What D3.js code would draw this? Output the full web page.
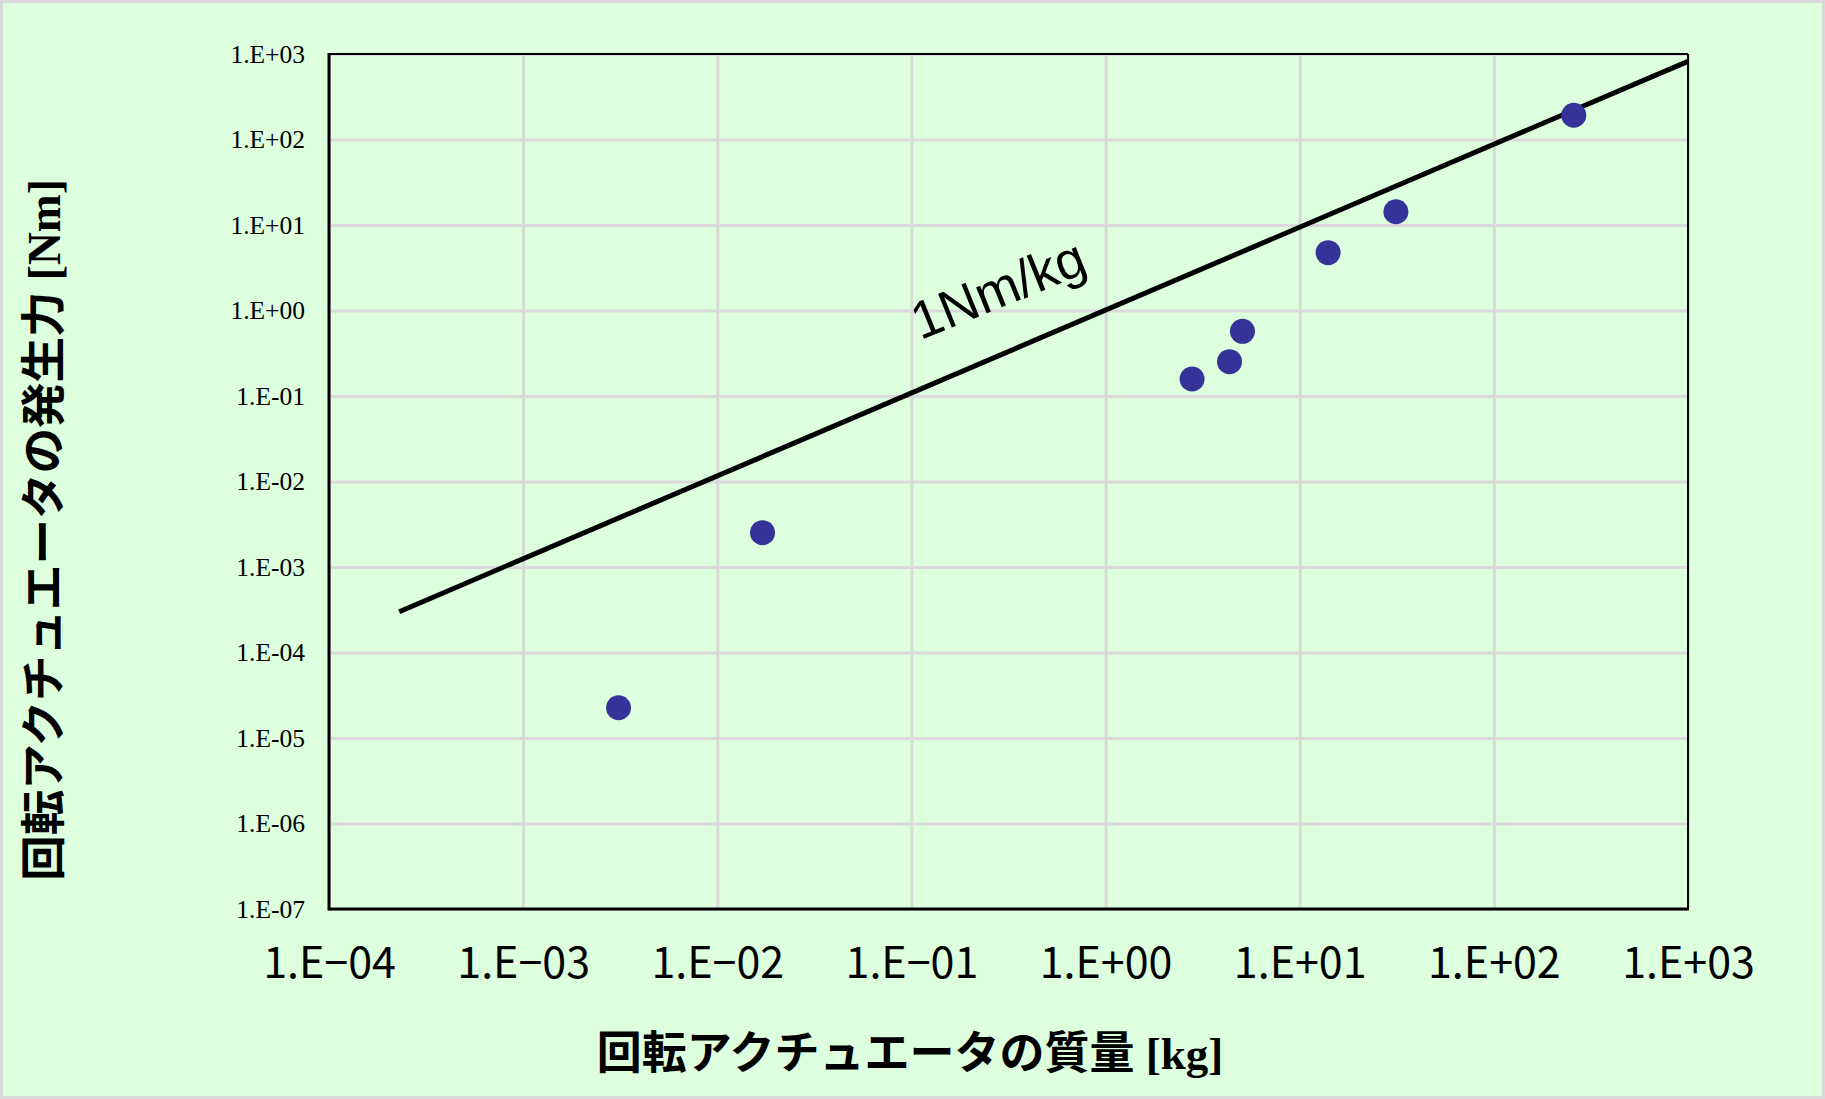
<!DOCTYPE html>
<html><head><meta charset="utf-8">
<script src="https://cdn.jsdelivr.net/npm/d3@7"></script>
<style>body{margin:0;background:#fff}svg{display:block}</style>
</head><body>
<script>
// ---- data ----
const massKg   = [3.1e-3, 1.71e-2, 2.79, 4.35, 5.07, 14.0, 31.3, 258];
const torqueNm = [2.26e-5, 2.52e-3, 0.158, 0.252, 0.571, 4.75, 14.3, 192];
const refLineX = [2.3e-4, 1e3];
const refLineY = [3.0e-4, 820];
const refLabel = "1Nm/kg";
const xTickValues = [1e-4, 1e-3, 1e-2, 1e-1, 1e0, 1e1, 1e2, 1e3];
const yTickValues = [1e-7, 1e-6, 1e-5, 1e-4, 1e-3, 1e-2, 1e-1, 1e0, 1e1, 1e2, 1e3];
const xTitle = "回転アクチュエータの質量";
const xUnit = " [kg]";
const yTitle = "回転アクチュエータの発生力";
const yUnit = " [Nm]";

// ---- layout ----
const W = 1825, H = 1099;
const plot = {left: 329, right: 1688, top: 54, bottom: 909};
const bg = "#DDFFDD";

const svg = d3.select("body").append("svg").attr("width", W).attr("height", H);
svg.append("rect").attr("x", 1.5).attr("y", 1.5).attr("width", W - 3).attr("height", H - 3)
  .attr("fill", bg).attr("stroke", "#D9D9D9").attr("stroke-width", 3);

const x = d3.scaleLog().domain([1e-4, 1e3]).range([plot.left, plot.right]);
const y = d3.scaleLog().domain([1e-7, 1e3]).range([plot.bottom, plot.top]);

function expLabel(v, minus) {
  const e = Math.round(Math.log10(v));
  return "1.E" + (e < 0 ? minus : "+") + String(Math.abs(e)).padStart(2, "0");
}

// gridlines
svg.append("g").attr("transform", `translate(0,${plot.bottom})`)
  .call(d3.axisBottom(x).tickValues(xTickValues).tickSize(-(plot.bottom - plot.top)).tickFormat(""))
  .call(g => g.select(".domain").remove())
  .call(g => g.selectAll("line").attr("stroke", "#D9D9D9").attr("stroke-width", 3));
svg.append("g").attr("transform", `translate(${plot.left},0)`)
  .call(d3.axisLeft(y).tickValues(yTickValues).tickSize(-(plot.right - plot.left)).tickFormat(""))
  .call(g => g.select(".domain").remove())
  .call(g => g.selectAll("line").attr("stroke", "#D9D9D9").attr("stroke-width", 3));

// frame
svg.append("line").attr("x1", plot.left).attr("x2", plot.right).attr("y1", plot.top).attr("y2", plot.top)
  .attr("stroke", "#000").attr("stroke-width", 2);
svg.append("line").attr("x1", plot.right).attr("x2", plot.right).attr("y1", plot.top).attr("y2", plot.bottom)
  .attr("stroke", "#000").attr("stroke-width", 2);
svg.append("line").attr("x1", plot.left).attr("x2", plot.right + 1).attr("y1", plot.bottom).attr("y2", plot.bottom)
  .attr("stroke", "#000").attr("stroke-width", 3);
svg.append("line").attr("x1", plot.left).attr("x2", plot.left).attr("y1", plot.top - 1).attr("y2", plot.bottom + 1.5)
  .attr("stroke", "#000").attr("stroke-width", 3);

// y tick labels
svg.append("g").attr("transform", `translate(${plot.left},0)`)
  .call(d3.axisLeft(y).tickValues(yTickValues).tickSize(0).tickPadding(24).tickFormat(d => expLabel(d, "-")))
  .call(g => g.select(".domain").remove())
  .call(g => g.selectAll("text").attr("font-family", "'Liberation Serif', 'Times New Roman', serif")
    .attr("font-size", 25.5).attr("fill", "#000"));

// x tick labels
svg.append("g").attr("transform", `translate(0,${plot.bottom})`)
  .call(d3.axisBottom(x).tickValues(xTickValues).tickSize(0).tickFormat(d => expLabel(d, "\u2212")))
  .call(g => g.select(".domain").remove())
  .call(g => g.selectAll("text").attr("dy", null).attr("y", 69)
    .attr("font-family", "'Noto Sans CJK JP', sans-serif").attr("font-size", 43).attr("fill", "#000"));

// reference line
svg.append("path")
  .datum(refLineX.map((d, i) => [d, refLineY[i]]))
  .attr("d", d3.line().x(d => x(d[0])).y(d => y(d[1])))
  .attr("fill", "none").attr("stroke", "#000").attr("stroke-width", 5);

svg.append("text")
  .attr("transform", `translate(1005,306) rotate(-22)`)
  .attr("text-anchor", "middle")
  .attr("font-family", "'Liberation Sans', Arial, sans-serif").attr("font-size", 53).attr("fill", "#000")
  .text(refLabel);

// data points
svg.append("g").selectAll("circle").data(massKg.map((m, i) => [m, torqueNm[i]])).join("circle")
  .attr("cx", d => x(d[0])).attr("cy", d => y(d[1])).attr("r", 12.5).attr("fill", "#333399");

// axis titles
const xt = svg.append("text").attr("x", 910).attr("y", 1069).attr("text-anchor", "middle")
  .attr("font-weight", "bold").attr("font-size", 45).attr("fill", "#000");
xt.append("tspan").attr("font-family", "'Noto Sans CJK JP', sans-serif").text(xTitle);
xt.append("tspan").attr("font-family", "'Liberation Serif', serif").text(xUnit);

const yt = svg.append("text").attr("transform", "translate(60,530) rotate(-90)").attr("text-anchor", "middle")
  .attr("font-weight", "bold").attr("font-size", 45.5).attr("fill", "#000");
yt.append("tspan").attr("font-family", "'Noto Sans CJK JP', sans-serif").text(yTitle);
yt.append("tspan").attr("font-family", "'Liberation Serif', serif").text(yUnit);
</script>
</body></html>
